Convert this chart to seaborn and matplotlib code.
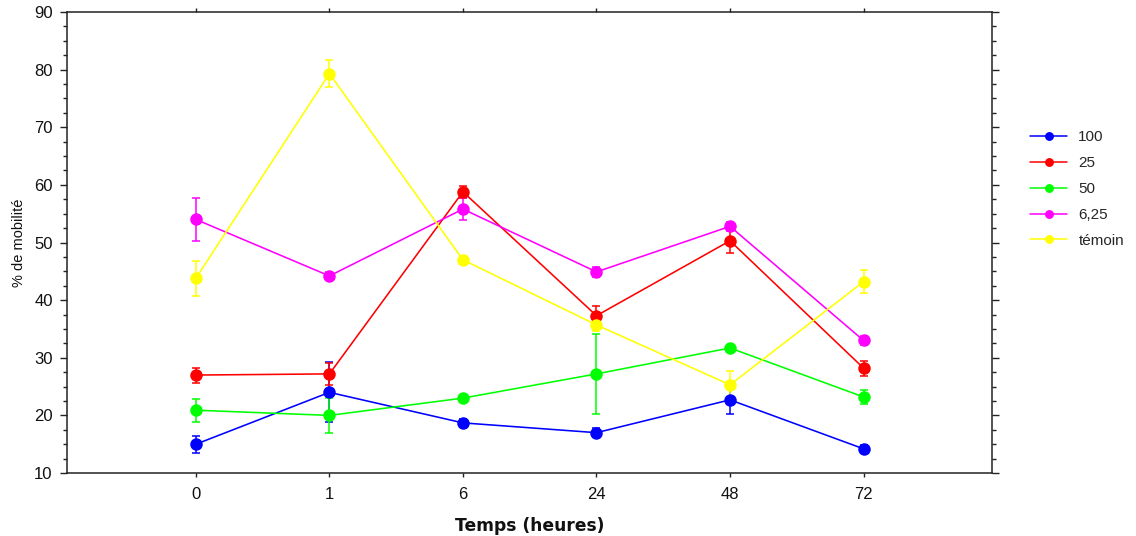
import numpy as np
import pandas as pd
import matplotlib
matplotlib.use("Agg")
import matplotlib.pyplot as plt
from matplotlib.lines import Line2D
from matplotlib.ticker import MultipleLocator
import seaborn as sns

# ---- data ----
times = ["0", "1", "6", "24", "48", "72"]
series = ["100", "25", "50", "6,25", "témoin"]
v100 = [15.0, 24.0, 18.7, 17.0, 22.7, 14.2]
e100 = [1.5, 5.2, 0.7, 0.8, 2.5, 0.7]
v25 = [27.0, 27.2, 58.8, 37.3, 50.3, 28.2]
e25 = [1.3, 1.9, 1.0, 1.7, 2.1, 1.3]
v50 = [20.9, 20.0, 23.0, 27.2, 31.7, 23.2]
e50 = [2.0, 3.0, 0.6, 6.9, 0.6, 1.2]
v625 = [54.0, 44.2, 55.8, 44.9, 52.8, 33.0]
e625 = [3.8, 0.7, 1.9, 0.8, 0.8, 0.8]
vtem = [43.8, 79.3, 47.0, 35.7, 25.3, 43.2]
etem = [3.0, 2.4, 0.7, 1.0, 2.4, 2.0]

values = [v100, v25, v50, v625, vtem]
errors = [e100, e25, e50, e625, etem]
colors = ["#0000FF", "#FF0000", "#00FF00", "#FF00FF", "#FFFF00"]

rows = []
for s, vals, errs in zip(series, values, errors):
    for i, (t, v, e) in enumerate(zip(times, vals, errs)):
        rows.append({"pos": i, "temps": t, "conc": s, "val": v, "err": e})
df = pd.DataFrame(rows)

sns.set_theme(style="white")
plt.rcParams["font.family"] = ["Liberation Sans", "DejaVu Sans"]

fig = plt.figure(figsize=(11.36, 5.36), dpi=100)
ax = fig.add_axes([0.059, 0.1175, 0.814, 0.8601])

palette = dict(zip(series, colors))
for s in series:
    sub = df[df["conc"] == s]
    ax.errorbar(sub["pos"], sub["val"], yerr=sub["err"], fmt="none",
                ecolor=palette[s], elinewidth=1.1, capsize=2.8, capthick=1.1, zorder=2)
    sns.lineplot(data=sub, x="pos", y="val", color=palette[s], marker="o",
                 markersize=9, markeredgewidth=0, linewidth=1.15, ax=ax,
                 legend=False, zorder=3)

ax.set_xlim(-0.965, 5.96)
ax.set_ylim(10, 90)
ax.set_xticks(range(len(times)))
ax.set_xticklabels(times)
ax.yaxis.set_major_locator(MultipleLocator(10))
ax.yaxis.set_minor_locator(MultipleLocator(2.5))

for sp in ax.spines.values():
    sp.set_visible(True)
    sp.set_color("#222222")
    sp.set_linewidth(1.1)

ax.tick_params(axis="y", which="major", direction="out", length=5.3, width=1.0,
               color="#222222", left=True, right=True, labelsize=12, pad=5,
               labelcolor="#111111")
ax.tick_params(axis="y", which="minor", direction="out", length=3.2, width=1.0,
               color="#222222", left=True, right=True)
ax.tick_params(axis="x", which="major", direction="out", length=3.0, width=1.0,
               color="#222222", bottom=True, top=True, labelsize=12, pad=7,
               labelcolor="#111111")

ax.set_xlabel("Temps (heures)", fontsize=12.3, fontweight="bold",
              family=["DejaVu Sans"], labelpad=11, color="#111111")
ax.set_ylabel("% de mobilité", fontsize=10.5, labelpad=6, color="#111111")
ax.grid(False)

handles = [Line2D([0], [0], color=c, marker="o", markersize=6.4, markeredgewidth=0,
                  linewidth=1.1) for c in colors]
ax.legend(handles, series, loc="upper left", bbox_to_anchor=(1.035, 0.757),
          frameon=False, fontsize=11, handlelength=2.4, labelspacing=0.78,
          handletextpad=0.75, borderaxespad=0)

fig.savefig("out.png", dpi=100)
